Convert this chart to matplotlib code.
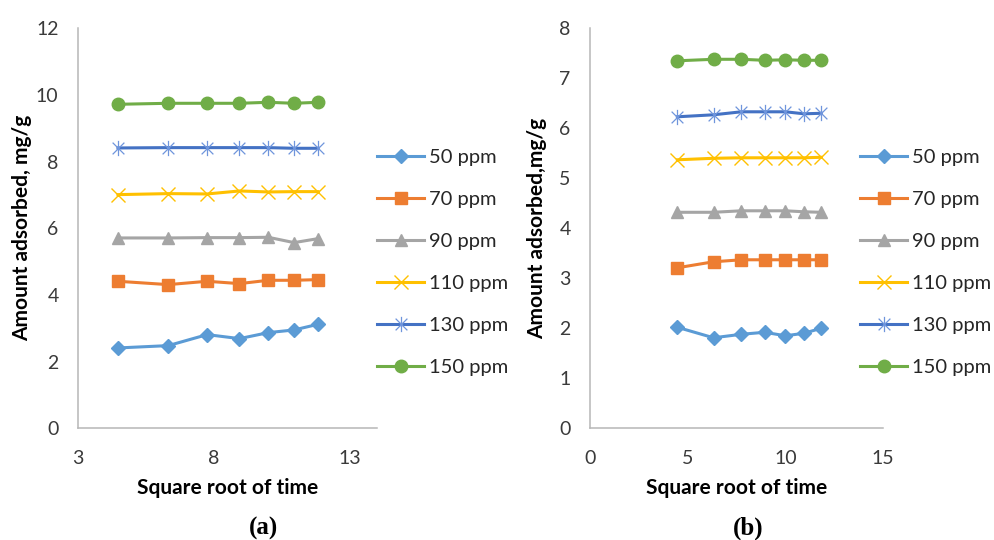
import numpy as np
import matplotlib
matplotlib.use("Agg")
import matplotlib.pyplot as plt
from matplotlib.path import Path

plt.rcParams["font.family"] = ["Lato", "DejaVu Sans"]

# Square root of contact time (min^0.5)
sqrt_t = [4.47, 6.32, 7.75, 8.94, 10.0, 10.95, 11.83]

labels = ["50 ppm", "70 ppm", "90 ppm", "110 ppm", "130 ppm", "150 ppm"]

# (a) amount adsorbed, mg/g
qa_50 = [2.41, 2.48, 2.81, 2.69, 2.87, 2.95, 3.12]
qa_70 = [4.41, 4.31, 4.41, 4.34, 4.44, 4.44, 4.46]
qa_90 = [5.71, 5.71, 5.72, 5.72, 5.73, 5.57, 5.69]
qa_110 = [7.01, 7.04, 7.03, 7.12, 7.09, 7.10, 7.10]
qa_130 = [8.41, 8.42, 8.42, 8.42, 8.42, 8.40, 8.40]
qa_150 = [9.72, 9.75, 9.75, 9.75, 9.78, 9.75, 9.78]

# (b) amount adsorbed, mg/g
qb_50 = [2.02, 1.81, 1.88, 1.92, 1.85, 1.90, 2.00]
qb_70 = [3.21, 3.33, 3.37, 3.37, 3.37, 3.37, 3.37]
qb_90 = [4.32, 4.32, 4.35, 4.35, 4.35, 4.33, 4.32]
qb_110 = [5.37, 5.40, 5.41, 5.41, 5.41, 5.41, 5.42]
qb_130 = [6.23, 6.27, 6.33, 6.33, 6.33, 6.29, 6.30]
qb_150 = [7.35, 7.38, 7.38, 7.36, 7.37, 7.36, 7.36]

# excel-like asterisk: an x with a vertical bar
star = Path([(-1, -1), (1, 1), (-1, 1), (1, -1), (0, -1.3), (0, 1.3)],
            [Path.MOVETO, Path.LINETO, Path.MOVETO, Path.LINETO,
             Path.MOVETO, Path.LINETO])

styles = [
    dict(color="#5B9BD5", marker="D", ms=7.5),
    dict(color="#ED7D31", marker="s", ms=9),
    dict(color="#A5A5A5", marker="^", ms=9),
    dict(color="#FFC000", marker="x", ms=10, mew=1.0),
    dict(color="#4472C4", marker=star, ms=11, mew=0.9, mec="#6f95dc"),
    dict(color="#70AD47", marker="o", ms=9),
]

fig = plt.figure(figsize=(9.94, 5.4), dpi=100)
ax_a = fig.add_axes([0.0785, 0.2069, 0.3008, 0.7407])
ax_b = fig.add_axes([0.5936, 0.2069, 0.2948, 0.7407])

tick_col = "#3a3a3a"


def draw_panel(ax, series, xlim, xticks, ylim, yticks, ylabel, ylab_x, leg_x):
    for y, lab, st in zip(series, labels, styles):
        ax.plot(sqrt_t, y, lw=2.2, label=lab, **st)
    ax.set_xlim(*xlim)
    ax.set_ylim(*ylim)
    ax.set_xticks(xticks)
    ax.set_yticks(yticks)
    for s in ["top", "right"]:
        ax.spines[s].set_visible(False)
    for s in ["left", "bottom"]:
        ax.spines[s].set_color("#b7b7b7")
        ax.spines[s].set_linewidth(1.1)
    ax.tick_params(axis="both", length=0, labelsize=14, colors=tick_col)
    ax.tick_params(axis="y", pad=14)
    ax.tick_params(axis="x", pad=16)
    ax.set_xlabel("Square root of time", fontsize=15, fontweight="bold")
    ax.set_ylabel(ylabel, fontsize=15, fontweight="bold")
    ax.xaxis.label.set_verticalalignment("center")
    ax.yaxis.label.set_verticalalignment("center")
    ax.xaxis.set_label_coords(0.5, -0.15)
    ax.yaxis.set_label_coords(ylab_x, 0.5)
    leg = ax.legend(loc="upper left", bbox_to_anchor=(leg_x, 0.6975),
                    frameon=False, fontsize=14.5, handlelength=2.35,
                    handletextpad=0.25, labelspacing=1.23, borderaxespad=0,
                    borderpad=0, numpoints=1)
    for t in leg.get_texts():
        t.set_color("#262626")


draw_panel(ax_a, [qa_50, qa_70, qa_90, qa_110, qa_130, qa_150],
           (3, 14), [3, 8, 13], (0, 12), np.arange(0, 13, 2),
           "Amount adsorbed, mg/g", -0.187, 1.0)
draw_panel(ax_b, [qb_50, qb_70, qb_90, qb_110, qb_130, qb_150],
           (0, 15), [0, 5, 10, 15], (0, 8), np.arange(0, 9, 1),
           "Amount adsorbed,mg/g", -0.181, 0.921)

fig.text(263 / 994, 1 - 528 / 540, "(a)", family="Liberation Serif",
         fontweight="bold", fontsize=18, ha="center", va="center")
fig.text(748 / 994, 1 - 528 / 540, "(b)", family="Liberation Serif",
         fontweight="bold", fontsize=18, ha="center", va="center")

fig.savefig("out.png", dpi=100)
